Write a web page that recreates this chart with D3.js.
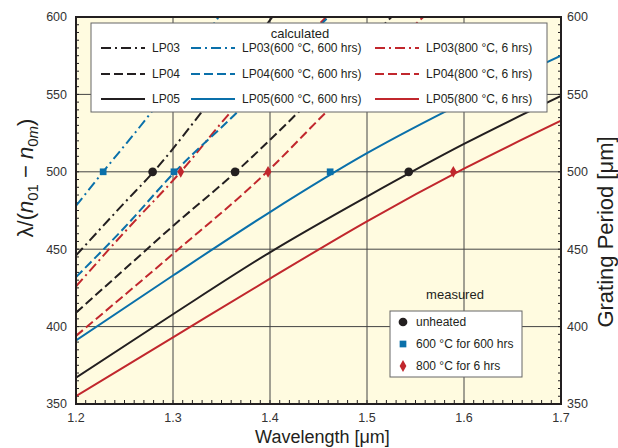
<!DOCTYPE html>
<html>
<head>
<meta charset="utf-8">
<script src="https://cdn.jsdelivr.net/npm/d3@7"></script>
<style>
  body { margin: 0; background: #fff; }
  text { font-family: "Liberation Sans", Arial, sans-serif; fill: #231f20; }
</style>
</head>
<body>
<div id="chart"></div>
<script>
// tick labels
const xTicks = [1.2, 1.3, 1.4, 1.5, 1.6, 1.7];
const yTicks = [350, 400, 450, 500, 550, 600];

// calculated curves, [wavelength um, period um]
const lp03Unheated = [[1.2, 446], [1.25, 480], [1.28, 500], [1.33, 539], [1.40, 598], [1.42, 615]];
const lp04Unheated = [[1.2, 409], [1.25, 437], [1.3, 465], [1.365, 500], [1.43, 539], [1.5, 584], [1.53, 603]];
const lp05Unheated = [[1.2, 367], [1.3, 408], [1.4, 448], [1.5, 484], [1.6, 518], [1.7, 549]];
const lp03At600 = [[1.2, 478], [1.228, 500], [1.277, 538], [1.347, 600], [1.36, 612]];
const lp04At600 = [[1.2, 432], [1.25, 464], [1.302, 500], [1.367, 539], [1.46, 600], [1.48, 613]];
const lp05At600 = [[1.2, 391], [1.3, 433], [1.4, 474], [1.5, 512], [1.6, 545], [1.7, 575]];
const lp03At800 = [[1.2, 426], [1.25, 461], [1.308, 500], [1.36, 539], [1.458, 600], [1.48, 614]];
const lp04At800 = [[1.2, 394], [1.3, 447], [1.397, 500], [1.457, 538], [1.558, 600], [1.58, 613]];
const lp05At800 = [[1.2, 355], [1.3, 393], [1.4, 431], [1.5, 468], [1.6, 502], [1.7, 533]];

// measured resonances
const measuredUnheated = [[1.279, 500], [1.364, 500], [1.543, 500]];
const measured600 = [[1.228, 500], [1.301, 500], [1.462, 500]];
const measured800 = [[1.308, 500], [1.398, 500], [1.589, 500]];

const calcLabels = [
  "LP03", "LP03(600 °C, 600 hrs)", "LP03(800 °C, 6 hrs)",
  "LP04", "LP04(600 °C, 600 hrs)", "LP04(800 °C, 6 hrs)",
  "LP05", "LP05(600 °C, 600 hrs)", "LP05(800 °C, 6 hrs)"
];
const measLabels = ["unheated", "600 °C for 600 hrs", "800 °C for 6 hrs"];

const width = 618, height = 448,
  margin = { top: 17, right: 57, bottom: 44, left: 76 };

const black = "#231f20", blue = "#0a70aa", red = "#c1272d";
const dashes = { dashdot: "10,4,2,4", dashed: "9,4", solid: null };

const curves = [
  { data: lp03Unheated, color: black, dash: "dashdot" },
  { data: lp03At600, color: blue, dash: "dashdot" },
  { data: lp03At800, color: red, dash: "dashdot" },
  { data: lp04Unheated, color: black, dash: "dashed" },
  { data: lp04At600, color: blue, dash: "dashed" },
  { data: lp04At800, color: red, dash: "dashed" },
  { data: lp05Unheated, color: black, dash: "solid" },
  { data: lp05At600, color: blue, dash: "solid" },
  { data: lp05At800, color: red, dash: "solid" }
];
curves.forEach((c, i) => c.label = calcLabels[i]);

const measured = [
  { data: measuredUnheated, color: black, shape: d3.symbolCircle, size: 60 },
  { data: measured600, color: blue, shape: d3.symbolSquare, size: 45 },
  { data: measured800, color: red, shape: d3.symbolDiamond, size: 40 }
];
measured.forEach((m, i) => m.label = measLabels[i]);

const x = d3.scaleLinear().domain([1.2, 1.7]).range([margin.left, width - margin.right]);
const y = d3.scaleLinear().domain([350, 600]).range([height - margin.bottom, margin.top]);

const svg = d3.select("#chart").append("svg")
  .attr("width", width)
  .attr("height", height);

svg.append("defs").append("clipPath").attr("id", "plot")
  .append("rect")
  .attr("x", x(1.2)).attr("y", y(600))
  .attr("width", x(1.7) - x(1.2)).attr("height", y(350) - y(600));

// background
svg.append("rect")
  .attr("x", x(1.2)).attr("y", y(600))
  .attr("width", x(1.7) - x(1.2)).attr("height", y(350) - y(600))
  .style("fill", "#fffbe0");

// grid
const grid = svg.append("g").style("stroke", "#444").style("stroke-width", 1);
xTicks.slice(1, -1).forEach(t => {
  grid.append("line").attr("x1", x(t)).attr("x2", x(t)).attr("y1", y(350)).attr("y2", y(600));
});
yTicks.slice(1, -1).forEach(t => {
  grid.append("line").attr("y1", y(t)).attr("y2", y(t)).attr("x1", x(1.2)).attr("x2", x(1.7));
});

// minor ticks
const minor = svg.append("g").style("stroke", black).style("stroke-width", 1);
d3.range(1.21, 1.695, 0.01).forEach(t => {
  minor.append("line").attr("x1", x(t)).attr("x2", x(t)).attr("y1", y(350)).attr("y2", y(350) - 4);
});
d3.range(355, 599, 5).forEach(t => {
  minor.append("line").attr("y1", y(t)).attr("y2", y(t)).attr("x1", x(1.2)).attr("x2", x(1.2) + 3);
  minor.append("line").attr("y1", y(t)).attr("y2", y(t)).attr("x1", x(1.7)).attr("x2", x(1.7) - 3);
});

// curves
const line = d3.line()
  .x(d => x(d[0]))
  .y(d => y(d[1]))
  .curve(d3.curveMonotoneX);

const lines = svg.append("g").attr("clip-path", "url(#plot)");
curves.forEach(c => {
  lines.append("path")
    .datum(c.data)
    .attr("d", line)
    .style("fill", "none")
    .style("stroke", c.color)
    .style("stroke-width", 2)
    .style("stroke-dasharray", dashes[c.dash]);
});

// measured points
measured.forEach(m => {
  svg.append("g").selectAll("path")
    .data(m.data)
    .enter()
    .append("path")
    .attr("transform", d => `translate(${x(d[0])},${y(d[1])})`)
    .attr("d", d3.symbol().type(m.shape).size(m.size))
    .style("fill", m.color);
});

// frame
svg.append("rect")
  .attr("x", x(1.2)).attr("y", y(600))
  .attr("width", x(1.7) - x(1.2)).attr("height", y(350) - y(600))
  .style("fill", "none")
  .style("stroke", black)
  .style("stroke-width", 2);

// tick labels
svg.append("g").selectAll("text")
  .data(xTicks).enter().append("text")
  .attr("x", d => x(d)).attr("y", y(350) + 18)
  .attr("text-anchor", "middle")
  .style("font-size", "12.5px")
  .style("fill", "#333")
  .text(d => d.toFixed(1));
svg.append("g").selectAll("text")
  .data(yTicks).enter().append("text")
  .attr("x", x(1.2) - 9).attr("y", d => y(d)).attr("dy", "0.35em")
  .attr("text-anchor", "end")
  .style("font-size", "12.5px")
  .style("fill", "#333")
  .text(d => d);
svg.append("g").selectAll("text")
  .data(yTicks).enter().append("text")
  .attr("x", x(1.7) + 6).attr("y", d => y(d)).attr("dy", "0.35em")
  .style("font-size", "12.5px")
  .style("fill", "#333")
  .text(d => d);

// axis titles
svg.append("text")
  .attr("x", (x(1.2) + x(1.7)) / 2 + 4).attr("y", 443)
  .attr("text-anchor", "middle")
  .style("font-size", "18px")
  .text("Wavelength [μm]");

svg.append("text")
  .attr("transform", `translate(613,232) rotate(-90)`)
  .attr("text-anchor", "middle")
  .style("font-size", "22px")
  .text("Grating Period [μm]");

const yTitle = svg.append("text")
  .attr("transform", `translate(33,178) rotate(-90)`)
  .attr("text-anchor", "middle")
  .style("font-size", "22px");
yTitle.append("tspan").text("λ/(");
yTitle.append("tspan").style("font-style", "italic").text("n");
yTitle.append("tspan").attr("dy", 5).style("font-size", "15px").text("01");
yTitle.append("tspan").attr("dy", -5).text(" − ");
yTitle.append("tspan").style("font-style", "italic").text("n");
yTitle.append("tspan").attr("dy", 5).style("font-size", "15px").text("0");
yTitle.append("tspan").style("font-size", "15px").style("font-style", "italic").text("m");
yTitle.append("tspan").attr("dy", -5).text(")");

// calculated legend
const leg = svg.append("g");
leg.append("rect")
  .attr("x", 91).attr("y", 23).attr("width", 456).attr("height", 89)
  .style("fill", "#fff").style("stroke", "#666").style("stroke-width", 1);
leg.append("text")
  .attr("x", 300).attr("y", 38)
  .attr("text-anchor", "middle")
  .style("font-size", "13px")
  .text("calculated");
const colX = [101, 191, 375];
const rowY = [48, 74, 99];
curves.forEach((c, i) => {
  const cx = colX[i % 3], cy = rowY[Math.floor(i / 3)];
  leg.append("line")
    .attr("x1", cx).attr("x2", cx + 44).attr("y1", cy).attr("y2", cy)
    .style("stroke", c.color).style("stroke-width", 2)
    .style("stroke-dasharray", dashes[c.dash]);
  leg.append("text")
    .attr("x", cx + 51).attr("y", cy).attr("dy", "0.35em")
    .style("font-size", "12px")
    .text(c.label);
});

// measured legend
const leg2 = svg.append("g");
leg2.append("text")
  .attr("x", 455).attr("y", 299)
  .attr("text-anchor", "middle")
  .style("font-size", "13px")
  .text("measured");
leg2.append("rect")
  .attr("x", 390).attr("y", 311).attr("width", 132).attr("height", 66)
  .style("fill", "#fff").style("stroke", "#666").style("stroke-width", 1);
measured.forEach((m, i) => {
  const cy = 322 + i * 22;
  leg2.append("path")
    .attr("transform", `translate(403,${cy})`)
    .attr("d", d3.symbol().type(m.shape).size(m.size))
    .style("fill", m.color);
  leg2.append("text")
    .attr("x", 416).attr("y", cy).attr("dy", "0.35em")
    .style("font-size", "12px")
    .text(m.label);
});
</script>
</body>
</html>
